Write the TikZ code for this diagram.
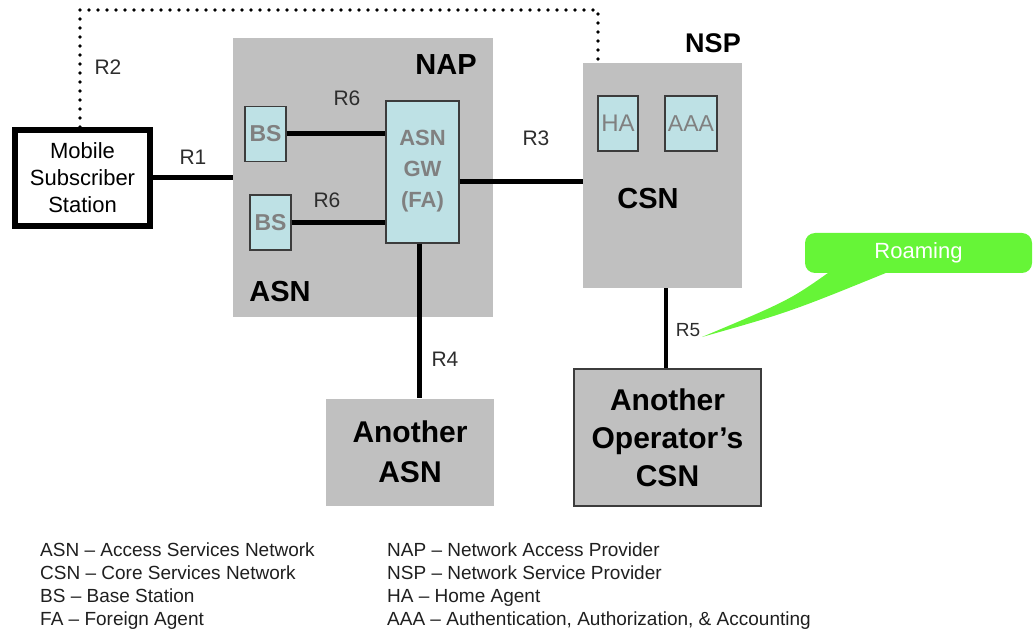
\documentclass[tikz,border=0pt]{standalone}
\usepackage{fontspec}
\setmainfont{Liberation Sans}
\usetikzlibrary{calc}

\definecolor{boxgray}{RGB}{192,192,192}
\definecolor{unitblue}{RGB}{190,225,229}
\definecolor{unitedge}{RGB}{60,60,60}
\definecolor{unittext}{RGB}{128,128,128}
\definecolor{reftext}{RGB}{45,45,45}
\definecolor{roamgreen}{RGB}{102,245,55}

\newcommand{\fs}[1]{\fontsize{#1}{#1}\selectfont}

\tikzset{
  region/.style={fill=boxgray, draw=none, inner sep=0pt},
  unitbox/.style={fill=unitblue, draw=unitedge, line width=1.4pt, inner sep=0pt,
    text=unittext, font=\fs{23}\bfseries},
  link/.style={line width=5pt, black},
  dotline/.style={line width=3.6pt, dash pattern=on 0pt off 9pt, line cap=round},
  reflabel/.style={text=reftext, font=\fs{21}, inner sep=0pt},
  bigtitle/.style={font=\fs{29}\bfseries, inner sep=0pt},
  legend/.style={anchor=base west, inner sep=0pt, text=black!88, font=\fs{19}},
}

\begin{document}
\begin{tikzpicture}[x=1pt, y=-1pt]
\useasboundingbox (0,0) rectangle (1034,631);

% regions
\node[region, minimum width=260pt, minimum height=279pt] (asn) at (363,177.5) {};
\node[region, minimum width=159pt, minimum height=225pt] (csn) at (662.5,175.5) {};
\node[region, minimum width=168pt, minimum height=107pt, font=\fs{30}\bfseries,
      align=center] (anasn) at (410,452) {Another\\[10pt]ASN};
\node[region, draw=unitedge, line width=1.4pt, minimum width=187pt, minimum height=137pt,
      font=\fs{30}\bfseries, align=center] (aocsn) at (667.5,437.5)
      {Another\\[8pt]Operator’s\\[8pt]CSN};

% mobile station
\node[draw=black, line width=6pt, fill=white, minimum width=135pt, minimum height=96pt,
      inner sep=0pt, align=center, font=\fs{22}] (mss) at (82.5,178)
      {Mobile\\[5pt]Subscriber\\[5pt]Station};

% units inside ASN and CSN
\node[unitbox, minimum width=41pt, minimum height=55pt] (bs1) at (265.5,134) {BS};
\node[unitbox, minimum width=41pt, minimum height=55pt] (bs2) at (270.5,222.5) {BS};
\node[unitbox, font=\fs{22}\bfseries, minimum width=73pt, minimum height=142pt,
      align=center, text depth=6pt] (gw) at (422.5,172)
      {ASN\\[9pt]GW\\[9pt](FA)};
\node[unitbox, font=\fs{24}, minimum width=40pt, minimum height=55pt] (ha) at (618,123.5) {HA};
\node[unitbox, font=\fs{23}, minimum width=52pt, minimum height=55pt] (aaa) at (691,123.5) {AAA};

% titles
\node[bigtitle] (naplbl) at (446,65) {NAP};
\node[bigtitle, font=\fs{27}\bfseries] (nsplbl) at (713,43) {NSP};
\node[bigtitle] (asnlbl) at (280,292) {ASN};
\node[bigtitle] (csnlbl) at (648,199) {CSN};

% reference points
\draw[link] (mss.east) -- (mss.east -| asn.west);
\draw[link] (bs1.east) -- (bs1.east -| gw.west);
\draw[link] (bs2.east) -- (bs2.east -| gw.west);
\draw[link] ([yshift=-10pt]gw.east) -- ([yshift=-10pt]gw.east -| csn.west);
\draw[link, line width=4.5pt] ([xshift=-3pt]gw.south) -- ([xshift=-3pt]gw.south |- anasn.north);
\draw[link, line width=3.5pt] ([xshift=3.5pt]csn.south) -- ([xshift=3.5pt]csn.south |- aocsn.north);

\coordinate (dcorner) at (598,10);
\draw[dotline] ([xshift=-2.5pt]mss.north) |- (dcorner) -- (dcorner |- csn.north);

\node[reflabel] (r2) at (108,67) {R2};
\node[reflabel] (r1) at (193,157) {R1};
\node[reflabel] (r6a) at (347,98) {R6};
\node[reflabel] (r6b) at (327,200) {R6};
\node[reflabel] (r3) at (536,138) {R3};
\node[reflabel] (r4) at (445,359) {R4};
\node[reflabel, font=\fs{19}] (r5) at (688,330) {R5};

% roaming callout
\coordinate (tip) at (702,337);
\fill[roamgreen] (835,268) .. controls (790,300) .. (tip)
      .. controls (790,312) .. (898,268) -- cycle;
\node[fill=roamgreen, rounded corners=10pt, minimum width=227pt, minimum height=40pt,
      inner sep=0pt, text=white, font=\fs{22}] (roam) at (918.5,253) {Roaming};

% legend
\node[legend] (l1) at (40,556) {ASN – Access Services Network};
\node[legend] (l2) at (40,579) {CSN – Core Services Network};
\node[legend] (l3) at (40,602) {BS – Base Station};
\node[legend] (l4) at (40,625) {FA – Foreign Agent};
\node[legend] (l5) at (387,556) {NAP – Network Access Provider};
\node[legend] (l6) at (387,579) {NSP – Network Service Provider};
\node[legend] (l7) at (387,602) {HA – Home Agent};
\node[legend] (l8) at (387,625) {AAA – Authentication, Authorization, \& Accounting};
\end{tikzpicture}
\end{document}
